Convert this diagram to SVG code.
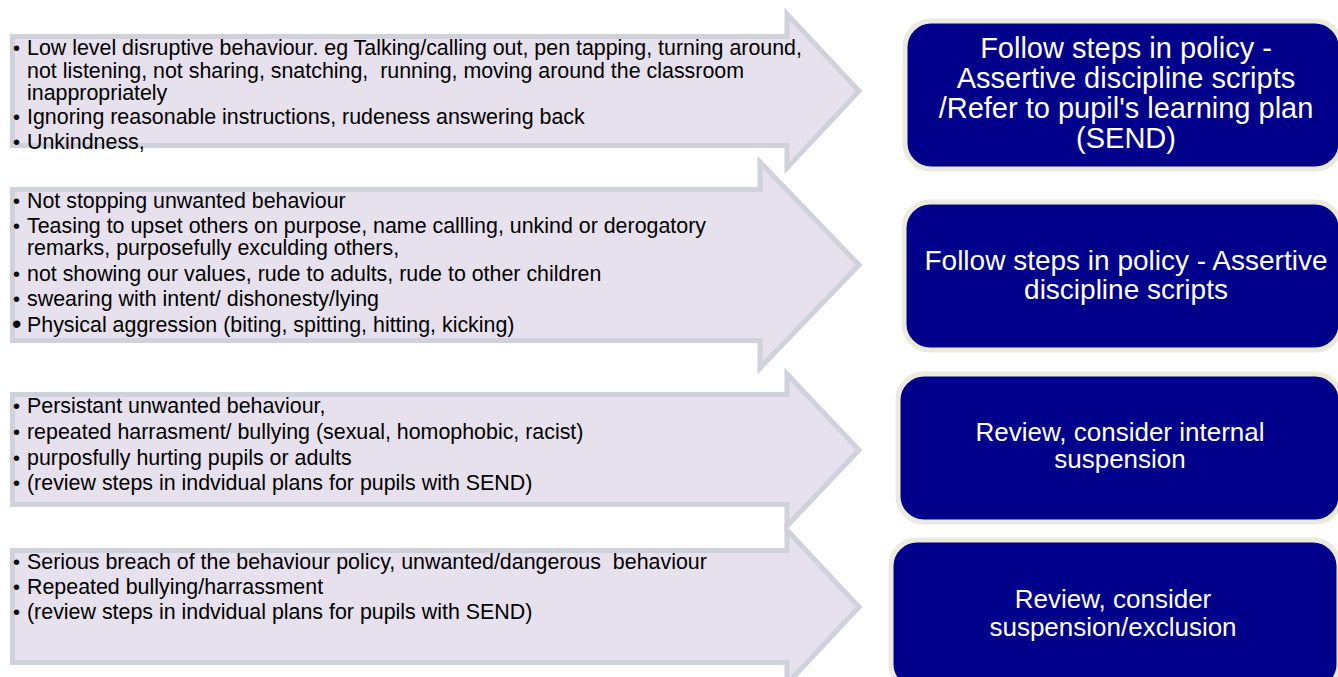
<svg xmlns="http://www.w3.org/2000/svg" width="1338" height="677" viewBox="0 0 1338 677">
<style>
.arrow{fill:#e6e1ec;stroke:#cfd1db;stroke-width:5;stroke-linejoin:miter}
.box{fill:#00008b;stroke:#ece9df;stroke-width:5}
.lt{font-family:"Liberation Sans",Arial,sans-serif;font-size:21.4px;fill:#000;white-space:pre}
.bl{font-family:"Liberation Sans",Arial,sans-serif;font-size:20px;fill:#000}
.rt{font-family:"Liberation Sans",Arial,sans-serif;fill:#fff;text-anchor:middle}
</style>
<rect width="1338" height="677" fill="#fff"/>
<g id="connectors">
<polygon id="arrow1" class="arrow" points="12.5,36.5 787,36.5 787,14 859,91 787,168 787,145.5 12.5,145.5"/>
<polygon id="arrow2" class="arrow" points="12.5,189.5 760,189.5 760,162 859,265 760,368 760,340.5 12.5,340.5"/>
<polygon id="arrow3" class="arrow" points="12.5,394.5 787,394.5 787,374 859,450 787,526 787,504.5 12.5,504.5"/>
<polygon id="arrow4" class="arrow" points="12.5,550.5 787,550.5 787,530 859,607 787,684 787,662.5 12.5,662.5"/>
</g>
<g id="text1">
<text class="bl" x="13" y="55">•</text>
<text class="lt" x="27" y="55">Low level disruptive behaviour. eg Talking/calling out, pen tapping, turning around,</text>
<text class="lt" x="27" y="77.5">not listening, not sharing, snatching,  running, moving around the classroom</text>
<text class="lt" x="27" y="100">inappropriately</text>
<text class="bl" x="13" y="124">•</text>
<text class="lt" x="27" y="124">Ignoring reasonable instructions, rudeness answering back</text>
<text class="bl" x="13" y="148.5">•</text>
<text class="lt" x="27" y="148.5">Unkindness,</text>
</g>
<g id="text2">
<text class="bl" x="13" y="208">•</text>
<text class="lt" x="27" y="208">Not stopping unwanted behaviour</text>
<text class="bl" x="13" y="233">•</text>
<text class="lt" x="27" y="233">Teasing to upset others on purpose, name callling, unkind or derogatory</text>
<text class="lt" x="27" y="255">remarks, purposefully exculding others,</text>
<text class="bl" x="13" y="281">•</text>
<text class="lt" x="27" y="281">not showing our values, rude to adults, rude to other children</text>
<text class="bl" x="13" y="306">•</text>
<text class="lt" x="27" y="306">swearing with intent/ dishonesty/lying</text>
<text class="bl" x="12" y="333" style="font-size:27px">•</text>
<text class="lt" x="27" y="332">Physical aggression (biting, spitting, hitting, kicking)</text>
</g>
<g id="text3">
<text class="bl" x="13" y="413">•</text>
<text class="lt" x="27" y="413">Persistant unwanted behaviour,</text>
<text class="bl" x="13" y="439">•</text>
<text class="lt" x="27" y="439">repeated harrasment/ bullying (sexual, homophobic, racist)</text>
<text class="bl" x="13" y="465">•</text>
<text class="lt" x="27" y="465">purposfully hurting pupils or adults</text>
<text class="bl" x="13" y="490">•</text>
<text class="lt" x="27" y="490">(review steps in indvidual plans for pupils with SEND)</text>
</g>
<g id="text4">
<text class="bl" x="13" y="569">•</text>
<text class="lt" x="27" y="569">Serious breach of the behaviour policy, unwanted/dangerous  behaviour</text>
<text class="bl" x="13" y="594">•</text>
<text class="lt" x="27" y="594">Repeated bullying/harrassment</text>
<text class="bl" x="13" y="619">•</text>
<text class="lt" x="27" y="619">(review steps in indvidual plans for pupils with SEND)</text>
</g>
<g id="box1">
<rect class="box" x="905" y="21" width="436" height="148" rx="26"/>
<text class="rt" style="font-size:29px" x="1126" y="58">Follow steps in policy -</text>
<text class="rt" style="font-size:29px" x="1126" y="88">Assertive discipline scripts</text>
<text class="rt" style="font-size:29px" x="1126" y="118">/Refer to pupil's learning plan</text>
<text class="rt" style="font-size:29px" x="1126" y="148">(SEND)</text>
</g>
<g id="box2">
<rect class="box" x="904" y="202" width="437" height="148" rx="26"/>
<text class="rt" style="font-size:28px" x="1126" y="270">Follow steps in policy - Assertive</text>
<text class="rt" style="font-size:28px" x="1126" y="299">discipline scripts</text>
</g>
<g id="box3">
<rect class="box" x="898" y="374" width="443" height="148" rx="26"/>
<text class="rt" style="font-size:26px" x="1120" y="441">Review, consider internal</text>
<text class="rt" style="font-size:26px" x="1120" y="468">suspension</text>
</g>
<g id="box4">
<rect class="box" x="891" y="540" width="448" height="150" rx="26"/>
<text class="rt" style="font-size:26px" x="1113" y="608">Review, consider</text>
<text class="rt" style="font-size:26px" x="1113" y="636">suspension/exclusion</text>
</g>
</svg>
